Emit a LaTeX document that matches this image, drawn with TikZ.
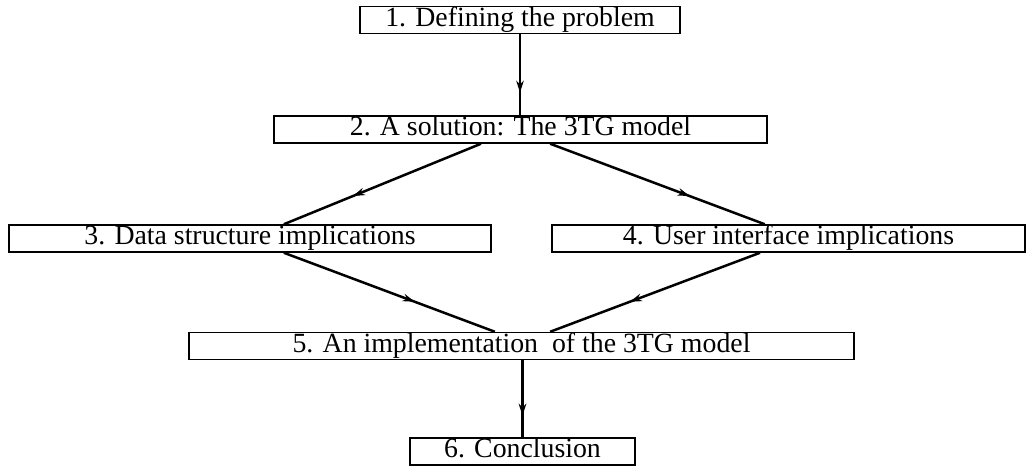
\documentclass[tikz,border=0pt]{standalone}
\usepackage{fontspec}
\setmainfont{Liberation Serif}
\usetikzlibrary{calc, arrows.meta, decorations.markings}

\begin{document}
\begin{tikzpicture}[x=0.5pt, y=-0.5pt,
    box/.style={draw, line width=0.75pt, inner sep=0pt, minimum height=13.5pt,
      font=\fontsize{13.9}{15}\selectfont, text height=9.4pt, text depth=3pt},
    flow/.style={line width=1.25pt, postaction={decorate},
      decoration={markings, mark=at position #1 with {\arrow{Stealth[length=6pt,width=3.8pt]}}}},
    flow/.default=0.72]
  \useasboundingbox (0,0) rectangle (1027,467);
  % the six chapters
  \node[box, minimum width=160pt]   (def)  at (520,20)    {1. Defining the problem};
  \node[box, minimum width=246.5pt] (sol)  at (520.5,129.5) {2. A solution: The 3TG model};
  \node[box, minimum width=241pt]   (data) at (250,238.5)  {3. Data structure implications};
  \node[box, minimum width=236.5pt] (ui)   at (788.5,238.5) {4. User interface implications};
  \node[box, minimum width=332.5pt] (impl) at (521.5,346)  {5. An implementation\ \ of the 3TG model};
  \node[box, minimum width=112.5pt] (conc) at (522.5,451.5) {6. Conclusion};
  % the connectors, arrow part way down
  \draw[flow] (def.south) -- (def.south |- sol.north);
  \draw[flow=0.65] ($(sol.south west)!.42!(sol.south east)$) -- ($(data.north west)!.57!(data.north east)$);
  \draw[flow=0.65] ($(sol.south west)!.56!(sol.south east)$) -- ($(ui.north west)!.45!(ui.north east)$);
  \draw[flow=0.62] ($(data.south west)!.57!(data.south east)$) -- ($(impl.north west)!.46!(impl.north east)$);
  \draw[flow=0.62] ($(ui.south west)!.44!(ui.south east)$) -- ($(impl.north west)!.543!(impl.north east)$);
  \draw[flow] (conc.north |- impl.south) -- (conc.north);
\end{tikzpicture}
\end{document}
